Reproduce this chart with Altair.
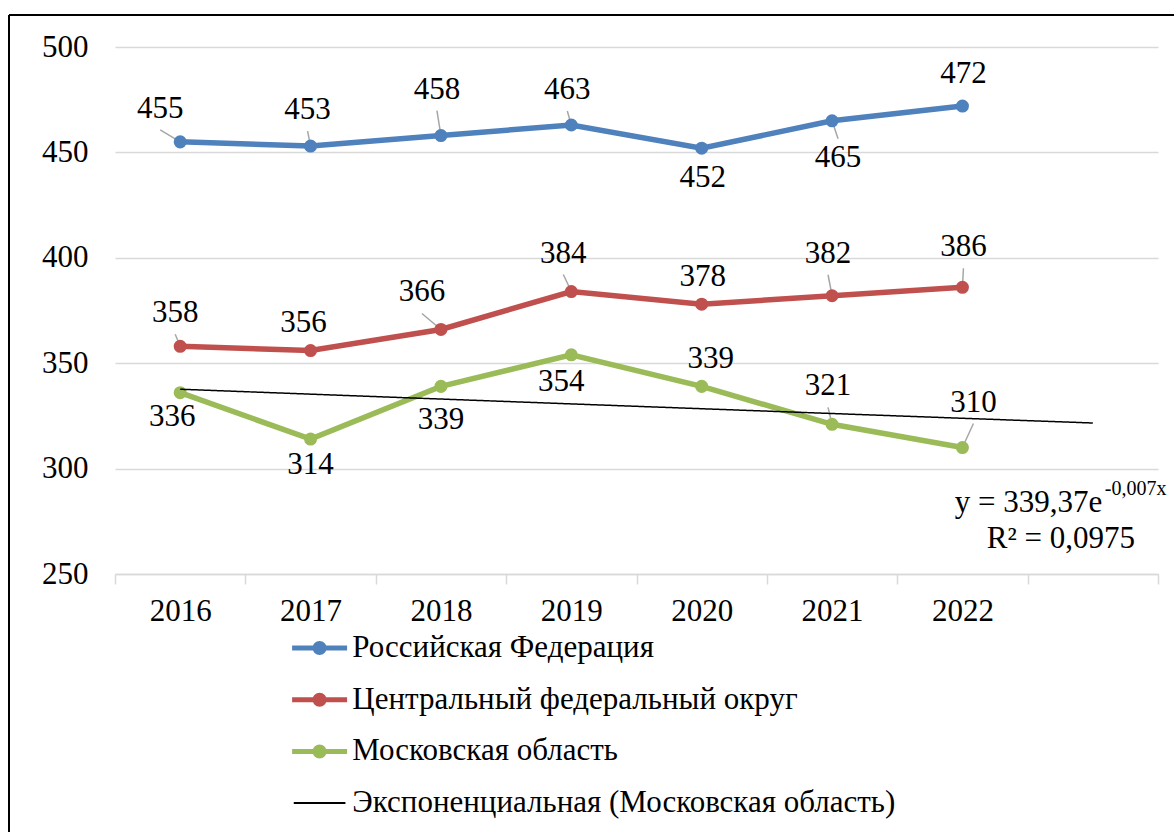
import altair as alt
import pandas as pd

# ---------------- data ----------------
years = ["2016", "2017", "2018", "2019", "2020", "2021", "2022"]
series_names = ["Российская Федерация", "Центральный федеральный округ", "Московская область"]
trend_name = "Экспоненциальная (Московская область)"
rf = [455, 453, 458, 463, 452, 465, 472]
cfo = [358, 356, 366, 384, 378, 382, 386]
mo = [336, 314, 339, 354, 339, 321, 310]
y_ticks = [250, 300, 350, 400, 450, 500]
eq_main = "y = 339,37e"
eq_sup = "-0,007x"
eq_r2 = "R² = 0,0975"

# ---------------- styles ----------------
colors = ["#4F81BD", "#C0504D", "#9BBB59"]
FONT = "Liberation Serif"
FS = 31
GRID = "#d9d9d9"
LEAD = "#a6a6a6"

# label placement (pixel offsets of label centre from the point) + leader flag
label_dx = [[-20, -3, -4, -4, 1, 6, 1],
            [-5, -7, -19, -8, 1, -4, 1],
            [-8, 0, 0, -10, 9, -4, 11]]
label_dy = [[-33, -36, -46, -35, 30, 37, -32],
            [-33, -28, -37, -38, -27, -42, -40],
            [24, 26, 34, 27, -27, -38, -45]]
leader = [[1, 1, 1, 1, 0, 1, 0],
          [1, 0, 1, 1, 0, 1, 1],
          [0, 0, 0, 0, 0, 1, 1]]

rows = []
styles = []
for s_idx, (name, vals) in enumerate(zip(series_names, [rf, cfo, mo])):
    for k, v in enumerate(vals):
        rid = len(rows)
        rows.append({"id": rid, "i": k + 1, "year": years[k], "v": v, "series": name})
        styles.append((rid, label_dx[s_idx][k], label_dy[s_idx][k], leader[s_idx][k]))
df = pd.DataFrame(rows)

W, H = 1043, 527

year_js = "[" + ",".join("'%s'" % y for y in years) + "]"
x_axis = alt.Axis(
    values=[0.5 * j for j in range(1, 18)],
    labelExpr=f"datum.value % 1 === 0 ? ({year_js}[datum.value - 1] || '') : ''",
    labelFont=FONT, labelFontSize=FS, labelColor="black",
    labelPadding=12, labelOverlap=False, labelFlush=False, labelBound=False,
    tickSize=10, tickColor=GRID, tickWidth=1.5,
    tickOpacity={"condition": {"test": "datum.value % 1 === 0", "value": 0}, "value": 1},
    domainColor=GRID, domainWidth=1.5,
    grid=False, title=None,
)
y_axis = alt.Axis(
    values=y_ticks, grid=True, gridColor=GRID, gridWidth=1.5,
    domain=False, ticks=False, labelPadding=27,
    labelFont=FONT, labelFontSize=FS, labelColor="black", title=None,
)
x_enc = alt.X("i:Q", scale=alt.Scale(domain=[0.5, 8.5], nice=False, zero=False), axis=x_axis)
y_enc = alt.Y("v:Q", scale=alt.Scale(domain=[250, 500], nice=False, zero=False), axis=y_axis)

# legend symbols: unit path scaled by sqrt(size)/2
SYM = 2670
ROW = SYM ** 0.5
path_lc = ("M-1.064,-0.097H1.064V0.097H-1.064Z "
           "M0.27,0A0.27,0.27,0,1,1,-0.27,0A0.27,0.27,0,1,1,0.27,0Z")
path_l = "M-1,-0.035H1V0.035H-1Z"
LX, LY = 178.6, 575

legend_main = alt.Legend(
    title=None, orient="none", legendX=LX, legendY=LY, direction="vertical",
    labelFont=FONT, labelFontSize=FS, labelColor="black", labelOffset=6.7,
    labelLimit=800, rowPadding=10.7, padding=0, symbolSize=SYM, symbolType=path_lc,
    symbolStrokeWidth=0, symbolOpacity=1,
)
legend_trend = alt.Legend(
    title=None, orient="none", legendX=LX, legendY=LY + 3 * ROW, direction="vertical",
    labelFont=FONT, labelFontSize=FS, labelColor="black", labelOffset=6.7,
    labelLimit=800, rowPadding=0, padding=0, symbolSize=SYM, symbolType=path_l,
    symbolStrokeWidth=0, symbolFillColor="black", symbolOpacity=1,
)
cscale = alt.Scale(domain=series_names, range=colors)
color_enc = alt.Color("series:N", scale=cscale, legend=legend_main)

base = alt.Chart(df)
lines = base.mark_line(strokeWidth=5.5).encode(x=x_enc, y=y_enc, color=color_enc)
points = base.mark_circle(size=170, opacity=1).encode(x=x_enc, y=y_enc, color=color_enc)

leaders = []
texts = []
for rid, dx, dy, lead in styles:
    if lead:
        end_dy = dy + 21 if dy < 0 else dy - 19
        leaders.append(
            base.transform_filter(alt.datum.id == rid)
            .mark_rule(color=LEAD, strokeWidth=1.5, x2Offset=dx, y2Offset=end_dy)
            .encode(x=x_enc, y=y_enc, x2=alt.X2("i:Q"), y2=alt.Y2("v:Q"))
        )
    texts.append(
        base.transform_filter(alt.datum.id == rid)
        .mark_text(dx=dx, dy=dy, font=FONT, fontSize=FS, color="black",
                   align="center", baseline="middle")
        .encode(x=x_enc, y=y_enc, text="v:Q")
    )

trend = (
    base.transform_filter(alt.datum.series == series_names[2])
    .transform_regression("i", "v", method="exp", extent=[1, 8])
    .transform_calculate(trend=f"'{trend_name}'")
    .mark_line(strokeWidth=1.5, color="black")
    .encode(x=x_enc, y=y_enc,
            strokeDash=alt.StrokeDash("trend:N", scale=alt.Scale(domain=[trend_name], range=[[1, 0]]),
                                      legend=legend_trend))
)

one = alt.Chart(pd.DataFrame({"k": [0]}))
eq1 = one.mark_text(text=eq_main, font=FONT, fontSize=FS, color="black", align="left",
                    baseline="alphabetic", dx=-138).encode(x=alt.datum(8), y=alt.datum(279.4))
eq2 = one.mark_text(text=eq_sup, font=FONT, fontSize=20, color="black", align="left",
                    baseline="alphabetic", dx=12).encode(x=alt.datum(8), y=alt.datum(287.5))
eq3 = one.mark_text(text=eq_r2, font=FONT, fontSize=FS, color="black", align="left",
                    baseline="alphabetic", dx=-106).encode(x=alt.datum(8), y=alt.datum(262.3))

border_top = one.mark_rule(color="black", strokeWidth=2).encode(
    x=alt.value(-106), x2=alt.value(1059), y=alt.value(-32))
border_left = one.mark_rule(color="black", strokeWidth=2).encode(
    x=alt.value(-106), y=alt.value(-32), y2=alt.value(785))

chart = alt.layer(
    border_top, border_left, lines, *leaders, points, trend, *texts, eq1, eq2, eq3
).properties(
    width=W, height=H, background="white",
    padding={"left": 8, "top": 14, "right": 0, "bottom": 0},
).configure_view(stroke=None)

chart.save("out.html", embed_options={"renderer": "svg", "actions": False})
